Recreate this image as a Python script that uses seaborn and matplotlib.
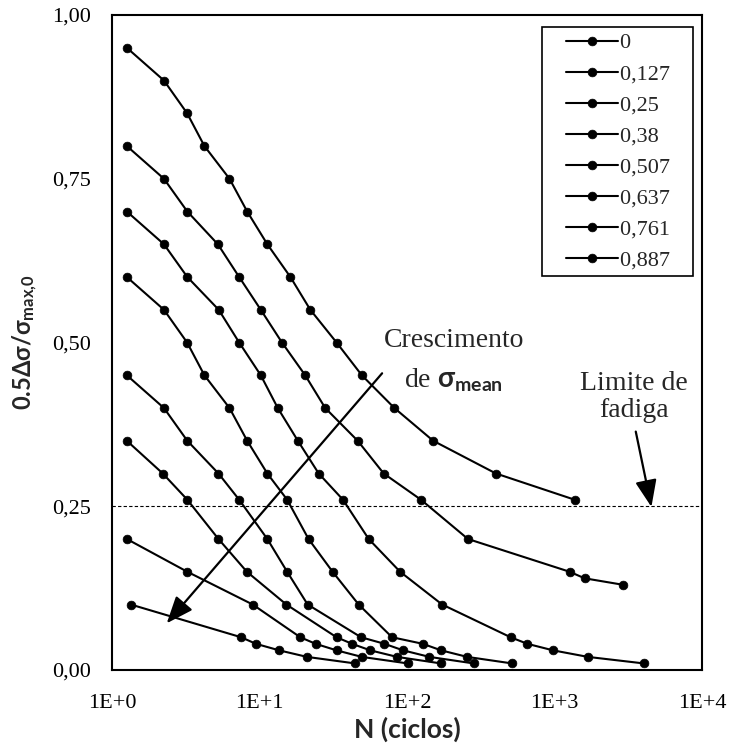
import numpy as np
import pandas as pd
import matplotlib
matplotlib.use("Agg")
import matplotlib.pyplot as plt
import seaborn as sns
from matplotlib.ticker import FixedLocator, FuncFormatter, LogLocator, NullFormatter
from matplotlib.legend_handler import HandlerLine2D
from matplotlib.lines import Line2D

# ---------------- data ----------------
sigma_labels = ["0", "0,127", "0,25", "0,38", "0,507", "0,637", "0,761", "0,887"]

n_s0 = [1.26, 2.25, 3.23, 4.23, 6.26, 8.25, 11.3, 16.2, 22.1, 33.3, 49.4, 82.1, 150.4, 401, 1369]
y_s0 = [0.95, 0.90, 0.85, 0.80, 0.75, 0.70, 0.65, 0.60, 0.55, 0.50, 0.45, 0.40, 0.35, 0.30, 0.26]

n_s1 = [1.26, 2.25, 3.24, 5.22, 7.28, 10.2, 14.2, 20.4, 27.9, 46.3, 69.5, 124.3, 259, 1266, 1600, 2932]
y_s1 = [0.80, 0.75, 0.70, 0.65, 0.60, 0.55, 0.50, 0.45, 0.40, 0.35, 0.30, 0.26, 0.20, 0.15, 0.14, 0.13]

n_s2 = [1.26, 2.25, 3.24, 5.29, 7.28, 10.2, 13.3, 18.2, 25.2, 36.8, 55.0, 89.8, 173, 504, 654, 978, 1686, 4045]
y_s2 = [0.70, 0.65, 0.60, 0.55, 0.50, 0.45, 0.40, 0.35, 0.30, 0.26, 0.20, 0.15, 0.10, 0.05, 0.04, 0.03, 0.02, 0.01]

n_s3 = [1.26, 2.25, 3.23, 4.23, 6.26, 8.25, 11.3, 15.4, 21.5, 31.3, 47.0, 79.2, 127.9, 170.4, 256, 517]
y_s3 = [0.60, 0.55, 0.50, 0.45, 0.40, 0.35, 0.30, 0.26, 0.20, 0.15, 0.10, 0.05, 0.04, 0.03, 0.02, 0.01]

n_s4 = [1.26, 2.25, 3.24, 5.27, 7.28, 11.3, 15.4, 21.2, 48.8, 70.3, 94.1, 142, 284]
y_s4 = [0.45, 0.40, 0.35, 0.30, 0.26, 0.20, 0.15, 0.10, 0.05, 0.04, 0.03, 0.02, 0.01]

n_s5 = [1.26, 2.21, 3.24, 5.27, 8.21, 15.2, 33.3, 42.4, 56.4, 85.7, 170.4]
y_s5 = [0.35, 0.30, 0.26, 0.20, 0.15, 0.10, 0.05, 0.04, 0.03, 0.02, 0.01]

n_s6 = [1.26, 3.24, 8.99, 18.9, 24.0, 33.3, 49.4, 101.4]
y_s6 = [0.20, 0.15, 0.10, 0.05, 0.04, 0.03, 0.02, 0.01]

n_s7 = [1.34, 7.51, 9.45, 13.6, 21.0, 44.6]
y_s7 = [0.10, 0.05, 0.04, 0.03, 0.02, 0.01]

fatigue_limit = 0.25
x_ticks = [1, 10, 100, 1000, 10000]
y_ticks = [0.0, 0.25, 0.5, 0.75, 1.0]

series_n = [n_s0, n_s1, n_s2, n_s3, n_s4, n_s5, n_s6, n_s7]
series_y = [y_s0, y_s1, y_s2, y_s3, y_s4, y_s5, y_s6, y_s7]

rows = []
for lab, ns, ys in zip(sigma_labels, series_n, series_y):
    for n, v in zip(ns, ys):
        rows.append({"N": n, "val": v, "sigma": lab})
df = pd.DataFrame(rows)

# ---------------- style ----------------
sns.set_style("white")
plt.rcParams["font.family"] = ["Liberation Serif", "DejaVu Serif"]
plt.rcParams["mathtext.fontset"] = "custom"
plt.rcParams["mathtext.bf"] = "Lato:bold"
plt.rcParams["mathtext.rm"] = "Lato"
plt.rcParams["mathtext.it"] = "Lato:italic"

W, H = 729, 746
fig = plt.figure(figsize=(W / 100, H / 100), dpi=100)
L, R, T, B = 112, 702, 15, 670
ax = fig.add_axes([L / W, 1 - B / H, (R - L) / W, (B - T) / H])

sns.lineplot(data=df, x="N", y="val", hue="sigma", hue_order=sigma_labels,
             palette=["black"] * len(sigma_labels), marker="o", markersize=6.3,
             markeredgecolor="black", markeredgewidth=0.5, linewidth=1.5,
             sort=False, estimator=None, legend=False, ax=ax)
line_handles = list(ax.lines[:len(sigma_labels)])

ax.axhline(fatigue_limit, color="black", linewidth=0.8, linestyle=(0, (3, 2)))

ax.set_xscale("log")
ax.set_xlim(1, 10000)
ax.set_ylim(0, 1.0)

ax.xaxis.set_major_locator(FixedLocator(x_ticks))
ax.xaxis.set_major_formatter(FuncFormatter(lambda v, p: "1E+%d" % round(np.log10(v))))
ax.xaxis.set_minor_locator(LogLocator(base=10, subs=np.arange(2, 10)))
ax.xaxis.set_minor_formatter(NullFormatter())

ax.yaxis.set_major_locator(FixedLocator(y_ticks))
ax.yaxis.set_major_formatter(FuncFormatter(lambda v, p: ("%.2f" % v).replace(".", ",")))
ax.yaxis.set_minor_locator(FixedLocator(np.arange(0.05, 1.0, 0.05)))

ax.tick_params(axis="both", which="both", direction="in", width=1.2, colors="black")
ax.tick_params(axis="x", which="major", length=6, pad=17, labelsize=16)
ax.tick_params(axis="x", which="minor", length=4)
ax.tick_params(axis="y", which="both", length=4, pad=15, labelsize=16)

for s in ax.spines.values():
    s.set_color("black")
    s.set_linewidth(1.5)

ax.set_xlabel("N (ciclos)", fontsize=19, fontweight="bold", family="Lato", labelpad=3)
ax.set_ylabel(r"$\mathbf{0.5\Delta\sigma/\sigma_{max{,}0}}$", fontsize=17, labelpad=9)

# annotations
ax.text(0.579, 0.493, "Crescimento", transform=ax.transAxes, ha="center", va="baseline", fontsize=20)
ax.text(0.579, 0.432, r"de $\mathbf{\sigma_{mean}}$", transform=ax.transAxes, ha="center",
        va="baseline", fontsize=20)
ax.text(0.885, 0.4275, "Limite de", transform=ax.transAxes, ha="center", va="baseline", fontsize=20)
ax.text(0.885, 0.3863, "fadiga", transform=ax.transAxes, ha="center", va="baseline", fontsize=20)

arrow_kw = dict(arrowstyle="-|>,head_length=0.55,head_width=0.22", color="black", lw=1.6,
                mutation_scale=30, shrinkA=0, shrinkB=0)
ax.annotate("", xy=(2.35, 0.0713), xytext=(67.8, 0.453), arrowprops=arrow_kw)
ax.annotate("", xy=(4540, 0.249), xytext=(3556, 0.364), arrowprops=arrow_kw)

# legend (trailing spaces reproduce the wide right margin of the original box)
leg_labels = [s + "   " for s in sigma_labels]
leg = ax.legend(line_handles, leg_labels, loc="upper right",
                bbox_to_anchor=((692.7 - L) / (R - L), (B - 27.3) / (B - T)),
                borderaxespad=0, fontsize=16, frameon=True, fancybox=False,
                edgecolor="black", framealpha=1, borderpad=0.25, labelspacing=0.47,
                handlelength=3.15, handletextpad=0.1,
                handler_map={Line2D: HandlerLine2D(xpad=0.8)})
leg.get_frame().set_linewidth(1.2)

fig.savefig("out.png", dpi=100)
